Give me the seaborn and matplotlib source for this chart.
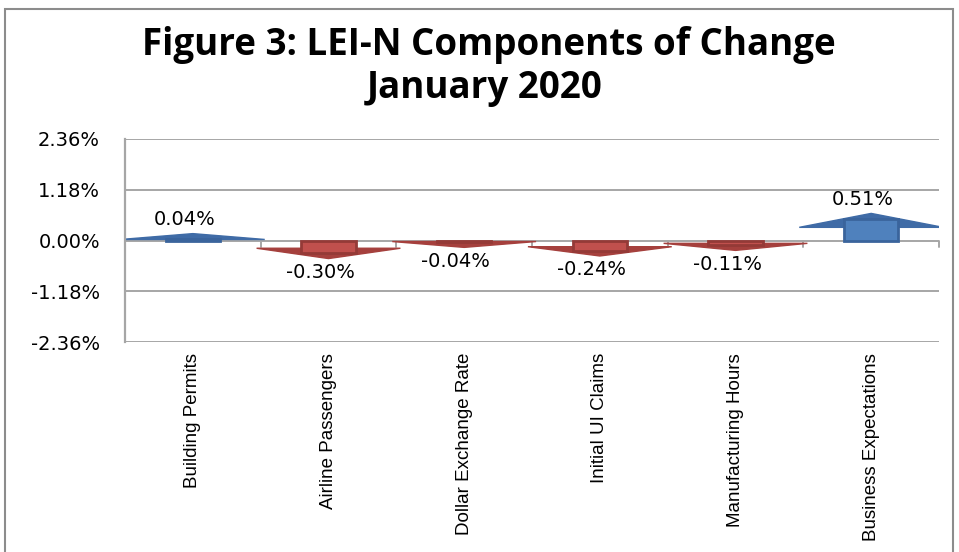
import matplotlib
matplotlib.use("Agg")
import matplotlib.pyplot as plt
import seaborn as sns
import numpy as np
import pandas as pd
from matplotlib.patches import Polygon, Rectangle
from matplotlib import font_manager

# ---- data ----
categories = ["Building Permits", "Airline Passengers", "Dollar Exchange Rate",
              "Initial UI Claims", "Manufacturing Hours", "Business Expectations"]
values = [0.04, -0.30, -0.04, -0.24, -0.11, 0.51]
value_labels = ["0.04%", "-0.30%", "-0.04%", "-0.24%", "-0.11%", "0.51%"]
y_ticks = [-2.36, -1.18, 0.0, 1.18, 2.36]
y_tick_labels = ["-2.36%", "-1.18%", "0.00%", "1.18%", "2.36%"]
title_line1 = "Figure 3: LEI-N Components of Change"
title_line2 = "January 2020"

sns.set_style("white")
plt.rcParams["font.family"] = ["DejaVu Sans"]
plt.rcParams["text.color"] = "black"
plt.rcParams["xtick.labelcolor"] = "black"
plt.rcParams["ytick.labelcolor"] = "black"

installed = {f.name for f in font_manager.fontManager.ttflist}
narrow = "Liberation Sans Narrow" if "Liberation Sans Narrow" in installed else "Liberation Sans"
title_font = "Open Sans" if "Open Sans" in installed else "DejaVu Sans"

df = pd.DataFrame({"category": categories, "value": values,
                   "direction": ["up" if v >= 0 else "down" for v in values]})

W, H = 959, 552
fig = plt.figure(figsize=(W / 100, H / 100), dpi=100)
ax = fig.add_axes([125 / W, 1 - 342 / H, (939 - 125) / W, (342 - 139) / H])

fill = {"up": "#4F81BD", "down": "#C0504D"}
edge = {"up": "#3A649C", "down": "#943A37"}
headc = {"up": "#3F6BA6", "down": "#A5403D"}

sns.barplot(data=df, x="category", y="value", hue="direction", order=categories,
            palette=fill, dodge=False, width=0.4, legend=False, ax=ax, zorder=3,
            saturation=1)

grid_c = "#A6A6A6"
ax.set_ylim(-2.36, 2.36)
ax.set_xlim(-0.5, len(categories) - 0.5)
for t in y_ticks:
    ax.axhline(t, color=grid_c, lw=1.4, zorder=0.5)

head_len = 0.12
for p in ax.patches:
    v = p.get_y() + p.get_height() if p.get_y() >= 0 else p.get_y()
    xc = p.get_x() + p.get_width() / 2
    d = "up" if v >= 0 else "down"
    s = 1 if v >= 0 else -1
    p.set_edgecolor(edge[d])
    p.set_linewidth(2.0)
    base = 0.6 * v
    tip = v + s * head_len
    hw = 0.53
    head = Polygon([[xc - hw, base], [xc + hw, base], [xc, tip]], closed=True,
                   facecolor=headc[d], edgecolor=headc[d], lw=1, zorder=2)
    ax.add_patch(head)

for i, (v, lab) in enumerate(zip(values, value_labels)):
    s = 1 if v >= 0 else -1
    tip = v + s * head_len
    ax.annotate(lab, xy=(i, tip), xytext=(-6, 10 * s), textcoords="offset points",
                ha="center", va="center", fontsize=14, color="black", zorder=5)

# category separator ticks at zero line
for b in np.arange(len(categories)) + 0.5:
    ax.plot([b, b], [0, -0.14], color=grid_c, lw=1.4, zorder=0.6, clip_on=False)

ax.set_yticks(y_ticks)
ax.set_yticklabels(y_tick_labels, fontsize=14)
ax.tick_params(axis="y", direction="out", length=6, width=1.4, color=grid_c, pad=12)
ax.set_xticks(range(len(categories)))
ax.set_xticklabels(categories, rotation=90, fontsize=13.5, family=narrow, va="top", ha="center")
ax.tick_params(axis="x", length=0, pad=8)
ax.set_xlabel("")
ax.set_ylabel("")
for sp in ["top", "right", "bottom"]:
    ax.spines[sp].set_visible(False)
ax.spines["left"].set_color(grid_c)
ax.spines["left"].set_linewidth(1.6)

fig.text(489 / W, 1 - 45 / H, title_line1, ha="center", va="center", fontsize=26.5,
         fontweight="bold", family=title_font, color="black")
fig.text(485 / W, 1 - 88 / H, title_line2, ha="center", va="center", fontsize=26.5,
         fontweight="bold", family=title_font, color="black")

fig.add_artist(Rectangle((5 / W, -0.05), (953 - 5) / W, 1 - 9 / H + 0.05,
                         transform=fig.transFigure, fill=False, edgecolor="#8C8C8C", lw=1.5))

fig.savefig("out.png", dpi=100)
